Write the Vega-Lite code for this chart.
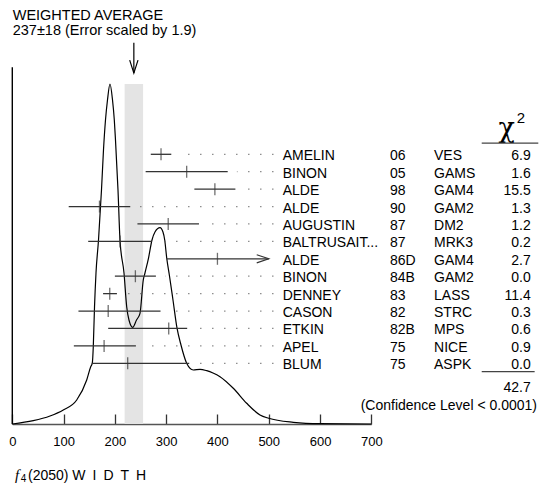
{
  "$schema": "https://vega.github.io/schema/vega-lite/v6.json",
  "width": 540,
  "height": 424,
  "autosize": {"type": "none"},
  "padding": {"left": 0, "top": 0, "right": 0, "bottom": 62},
  "config": {
    "view": {"stroke": null},
    "font": "Liberation Sans",
    "text": {"font": "Liberation Sans"},
    "axisX": {"grid": false, "domainColor": "#555", "domainWidth": 1.6,
      "labelFont": "Liberation Sans", "labelFontSize": 13, "labelColor": "#000",
      "labelFlush": false, "labelOverlap": false, "tickCount": 8, "format": "d"}
  },
  "resolve": {"scale": {"y": "independent"}},
  "layer": [
    {
      "layer": [
        {
          "data": {"values": [{}]},
          "mark": {"type": "rect", "color": "#e4e4e4"},
          "encoding": {
            "x": {"datum": 219, "type": "quantitative", "title": null},
            "x2": {"datum": 255},
            "y": {"datum": 0, "type": "quantitative", "axis": null},
            "y2": {"datum": 1.0}
          }
        },
        {
          "data": {"values": [
            {"w": 0, "d": 0}, {"w": 40.9, "d": 0.0097}, {"w": 73.5, "d": 0.0235}, {"w": 99.4, "d": 0.0412},
            {"w": 125.6, "d": 0.0706}, {"w": 145.1, "d": 0.1294}, {"w": 152.9, "d": 0.1685}, {"w": 156.0, "d": 0.1794},
            {"w": 157.9, "d": 0.2274}, {"w": 160.3, "d": 0.3441}, {"w": 163.2, "d": 0.4441}, {"w": 168.1, "d": 0.5412},
            {"w": 173.9, "d": 0.6882}, {"w": 177.8, "d": 0.8059}, {"w": 181.7, "d": 0.8941}, {"w": 185.6, "d": 0.9529},
            {"w": 190.5, "d": 1.0}, {"w": 195.4, "d": 0.9529}, {"w": 198.9, "d": 0.8941}, {"w": 201.2, "d": 0.8353},
            {"w": 206.1, "d": 0.6882}, {"w": 210.0, "d": 0.5412}, {"w": 217.8, "d": 0.4441}, {"w": 223.1, "d": 0.3441},
            {"w": 227.5, "d": 0.3059}, {"w": 234.8, "d": 0.2844}, {"w": 242.2, "d": 0.3059}, {"w": 249.0, "d": 0.3256},
            {"w": 255.4, "d": 0.4235}, {"w": 258.7, "d": 0.4441}, {"w": 265.6, "d": 0.4882}, {"w": 272.4, "d": 0.5412},
            {"w": 278.2, "d": 0.5647}, {"w": 288.0, "d": 0.5774}, {"w": 293.8, "d": 0.5647}, {"w": 297.2, "d": 0.5412},
            {"w": 301.1, "d": 0.4882}, {"w": 306.5, "d": 0.4353}, {"w": 313.3, "d": 0.3647}, {"w": 321.1, "d": 0.2824},
            {"w": 328.9, "d": 0.2324}, {"w": 340.0, "d": 0.1785}, {"w": 352.9, "d": 0.1588}, {"w": 366.0, "d": 0.1609},
            {"w": 379.1, "d": 0.1568}, {"w": 391.3, "d": 0.15}, {"w": 405.0, "d": 0.1391}, {"w": 430.9, "d": 0.105},
            {"w": 457.0, "d": 0.0609}, {"w": 483.0, "d": 0.0265}, {"w": 499.9, "d": 0.0168}, {"w": 547.9, "d": 0.005},
            {"w": 600.0, "d": 0.0009}, {"w": 700, "d": 0}
          ]},
          "mark": {"type": "line", "color": "#000", "strokeWidth": 1.2, "interpolate": "monotone"},
          "encoding": {
            "x": {"field": "w", "type": "quantitative", "title": null,
              "scale": {"domain": [0, 700], "range": [12.3, 371.3], "nice": false, "zero": false},
              "axis": {"ticks": true, "tickSize": -10, "tickWidth": 1.3, "tickColor": "#333", "labelPadding": 21,
                "values": [0, 100, 200, 300, 400, 500, 600, 700]}},
            "y": {"field": "d", "type": "quantitative", "scale": {"domain": [0, 1.247], "nice": false, "zero": false}, "axis": null}
          }
        },
        {
          "data": {"values": [{}]},
          "layer": [
            {
              "mark": {"type": "rule", "color": "#000", "strokeWidth": 1.4},
              "encoding": {
                "x": {"datum": 0, "type": "quantitative", "title": null},
                "y": {"datum": 0, "type": "quantitative", "axis": null},
                "y2": {"datum": 1.049}
              }
            },
            {
              "mark": {"type": "rule", "color": "#000", "strokeWidth": 1.2},
              "encoding": {
                "x": {"datum": 237, "type": "quantitative", "title": null},
                "y": {"datum": 1.121, "type": "quantitative", "axis": null},
                "y2": {"datum": 1.032}
              }
            },
            {
              "mark": {"type": "point", "shape": "M -0.64 -2 L 0 0 L 0.64 -2", "filled": false, "size": 169, "strokeWidth": 1.2, "color": "#000", "opacity": 1},
              "encoding": {
                "x": {"datum": 237, "type": "quantitative", "title": null},
                "y": {"datum": 1.032, "type": "quantitative", "axis": null}
              }
            },
            {
              "mark": {"type": "text", "text": "WEIGHTED AVERAGE", "align": "left", "baseline": "alphabetic", "fontSize": 14.5, "color": "#000"},
              "encoding": {
                "x": {"datum": 0.8, "type": "quantitative", "title": null},
                "y": {"datum": 1.189, "type": "quantitative", "axis": null}
              }
            },
            {
              "mark": {"type": "text", "text": "237±18 (Error scaled by 1.9)", "align": "left", "baseline": "alphabetic", "fontSize": 14.5, "color": "#000"},
              "encoding": {
                "x": {"datum": 0.8, "type": "quantitative", "title": null},
                "y": {"datum": 1.144, "type": "quantitative", "axis": null}
              }
            },
            {
              "mark": {"type": "text", "text": "χ", "align": "center", "baseline": "alphabetic", "fontSize": 27, "font": "DejaVu Serif", "color": "#000"},
              "encoding": {
                "x": {"datum": 964, "type": "quantitative", "title": null},
                "y": {"datum": 0.845, "type": "quantitative", "axis": null}
              }
            },
            {
              "mark": {"type": "text", "text": "2", "align": "left", "baseline": "alphabetic", "fontSize": 15, "color": "#000"},
              "encoding": {
                "x": {"datum": 983.5, "type": "quantitative", "title": null},
                "y": {"datum": 0.884, "type": "quantitative", "axis": null}
              }
            },
            {
              "mark": {"type": "rule", "color": "#444", "strokeWidth": 1.3},
              "encoding": {
                "x": {"datum": 915.3, "type": "quantitative", "title": null},
                "x2": {"datum": 1025.6},
                "y": {"datum": 0.826, "type": "quantitative", "axis": null}
              }
            },
            {
              "mark": {"type": "rule", "color": "#444", "strokeWidth": 1.3},
              "encoding": {
                "x": {"datum": 915.3, "type": "quantitative", "title": null},
                "x2": {"datum": 1018.5},
                "y": {"datum": 0.154, "type": "quantitative", "axis": null}
              }
            },
            {
              "mark": {"type": "text", "text": "42.7", "align": "right", "baseline": "alphabetic", "fontSize": 14, "color": "#000"},
              "encoding": {
                "x": {"datum": 1010.8, "type": "quantitative", "title": null},
                "y": {"datum": 0.094, "type": "quantitative", "axis": null}
              }
            },
            {
              "mark": {"type": "text", "text": "(Confidence Level < 0.0001)", "align": "right", "baseline": "alphabetic", "fontSize": 14, "color": "#000"},
              "encoding": {
                "x": {"datum": 1023, "type": "quantitative", "title": null},
                "y": {"datum": 0.041, "type": "quantitative", "axis": null}
              }
            },
            {
              "mark": {"type": "text", "text": "f", "align": "left", "baseline": "alphabetic", "fontSize": 15, "font": "Liberation Serif", "fontStyle": "italic", "color": "#000"},
              "encoding": {
                "x": {"datum": 5.3, "type": "quantitative", "title": null},
                "y": {"datum": -0.165, "type": "quantitative", "axis": null}
              }
            },
            {
              "mark": {"type": "text", "text": "4", "align": "left", "baseline": "alphabetic", "fontSize": 10, "color": "#000"},
              "encoding": {
                "x": {"datum": 16.4, "type": "quantitative", "title": null},
                "y": {"datum": -0.172, "type": "quantitative", "axis": null}
              }
            },
            {
              "mark": {"type": "text", "text": "(2050) W\u2002I\u2002D\u2002T\u2002H", "align": "left", "baseline": "alphabetic", "fontSize": 14, "color": "#000"},
              "encoding": {
                "x": {"datum": 30.6, "type": "quantitative", "title": null},
                "y": {"datum": -0.165, "type": "quantitative", "axis": null}
              }
            }
          ]
        }
      ]
    },
    {
      "data": {"values": [
        {"id": "AMELIN 06", "name": "AMELIN", "year": "06", "method": "VES", "chi2": "6.9", "lo": 270, "value": 290, "hi": 310},
        {"id": "BINON 05", "name": "BINON", "year": "05", "method": "GAMS", "chi2": "1.6", "lo": 260, "value": 340, "hi": 420},
        {"id": "ALDE 98", "name": "ALDE", "year": "98", "method": "GAM4", "chi2": "15.5", "lo": 355, "value": 395, "hi": 435},
        {"id": "ALDE 90", "name": "ALDE", "year": "90", "method": "GAM2", "chi2": "1.3", "lo": 110, "value": 170, "hi": 230},
        {"id": "AUGUSTIN 87", "name": "AUGUSTIN", "year": "87", "method": "DM2", "chi2": "1.2", "lo": 244, "value": 304, "hi": 364},
        {"id": "BALTRUSAIT 87", "name": "BALTRUSAIT...", "year": "87", "method": "MRK3", "chi2": "0.2", "lo": 148, "value": 210, "hi": 272},
        {"id": "ALDE 86D", "name": "ALDE", "year": "86D", "method": "GAM4", "chi2": "2.7", "lo": 301, "value": 400, "hi": 500},
        {"id": "BINON 84B", "name": "BINON", "year": "84B", "method": "GAM2", "chi2": "0.0", "lo": 200, "value": 240, "hi": 280},
        {"id": "DENNEY 83", "name": "DENNEY", "year": "83", "method": "LASS", "chi2": "11.4", "lo": 177, "value": 190, "hi": 204},
        {"id": "CASON 82", "name": "CASON", "year": "82", "method": "STRC", "chi2": "0.3", "lo": 129, "value": 187, "hi": 289},
        {"id": "ETKIN 82B", "name": "ETKIN", "year": "82B", "method": "MPS", "chi2": "0.6", "lo": 187, "value": 305, "hi": 341},
        {"id": "APEL 75", "name": "APEL", "year": "75", "method": "NICE", "chi2": "0.9", "lo": 120, "value": 179, "hi": 241},
        {"id": "BLUM 75", "name": "BLUM", "year": "75", "method": "ASPK", "chi2": "0.0", "lo": 155, "value": 225, "hi": 345}
      ]},
      "transform": [
        {"calculate": "min(datum.hi + 18, 509)", "as": "dotEnd"},
        {"calculate": "509", "as": "dotRight"}
      ],
      "layer": [
        {
          "mark": {"type": "rule", "color": "#333", "strokeWidth": 1.3},
          "encoding": {
            "x": {"field": "lo", "type": "quantitative", "title": null},
            "x2": {"field": "hi"},
            "y": {"field": "id", "type": "ordinal", "sort": null, "axis": null,
              "scale": {"type": "point", "range": [154.3, 363.3], "padding": 0}}
          }
        },
        {
          "mark": {"type": "tick", "orient": "vertical", "size": 12, "thickness": 1.3, "color": "#333"},
          "encoding": {
            "x": {"field": "value", "type": "quantitative", "title": null},
            "y": {"field": "id", "type": "ordinal", "sort": null, "axis": null}
          }
        },
        {
          "mark": {"type": "rule", "color": "#555", "strokeWidth": 1.3, "strokeDash": [1, 11]},
          "encoding": {
            "x": {"field": "dotRight", "type": "quantitative", "title": null},
            "x2": {"field": "dotEnd"},
            "y": {"field": "id", "type": "ordinal", "sort": null, "axis": null}
          }
        },
        {
          "mark": {"type": "point", "shape": "M -2 -0.67 L 0 0 L -2 0.67", "filled": false, "size": 144, "strokeWidth": 1.2, "color": "#333"},
          "encoding": {
            "x": {"field": "hi", "type": "quantitative", "title": null},
            "y": {"field": "id", "type": "ordinal", "sort": null, "axis": null},
            "opacity": {"condition": {"test": "datum.hi >= 500", "value": 1}, "value": 0}
          }
        },
        {
          "mark": {"type": "text", "align": "left", "baseline": "alphabetic", "dy": 6, "fontSize": 14, "color": "#000"},
          "encoding": {
            "x": {"datum": 527.2, "type": "quantitative", "title": null},
            "y": {"field": "id", "type": "ordinal", "sort": null, "axis": null},
            "text": {"field": "name", "type": "nominal"}
          }
        },
        {
          "mark": {"type": "text", "align": "left", "baseline": "alphabetic", "dy": 6, "fontSize": 14, "color": "#000"},
          "encoding": {
            "x": {"datum": 736.5, "type": "quantitative", "title": null},
            "y": {"field": "id", "type": "ordinal", "sort": null, "axis": null},
            "text": {"field": "year", "type": "nominal"}
          }
        },
        {
          "mark": {"type": "text", "align": "left", "baseline": "alphabetic", "dy": 6, "fontSize": 14, "color": "#000"},
          "encoding": {
            "x": {"datum": 822.3, "type": "quantitative", "title": null},
            "y": {"field": "id", "type": "ordinal", "sort": null, "axis": null},
            "text": {"field": "method", "type": "nominal"}
          }
        },
        {
          "mark": {"type": "text", "align": "right", "baseline": "alphabetic", "dy": 6, "fontSize": 14, "color": "#000"},
          "encoding": {
            "x": {"datum": 1010.8, "type": "quantitative", "title": null},
            "y": {"field": "id", "type": "ordinal", "sort": null, "axis": null},
            "text": {"field": "chi2", "type": "nominal"}
          }
        }
      ]
    }
  ]
}
